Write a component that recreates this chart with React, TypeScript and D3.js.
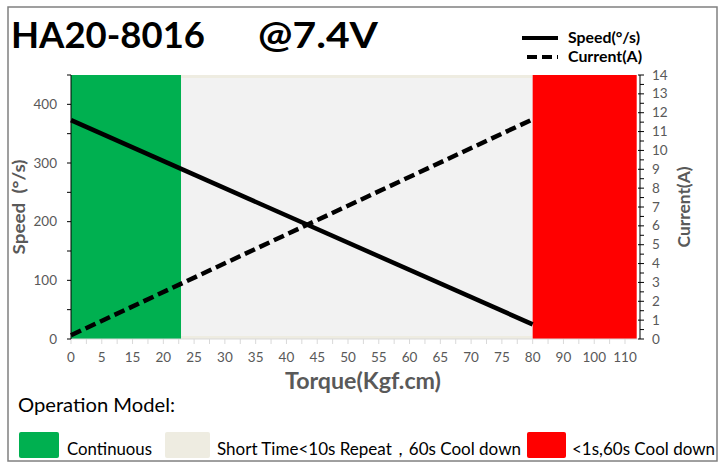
import React from "react";
import * as d3 from "d3";

const xLabels = [0, 5, 15, 20, 25, 30, 35, 40, 45, 50, 55, 60, 65, 70, 75, 80, 90, 100, 110];
const torque = [0, 80];
const speed = [373, 25];
const current = [0.2, 11.65];
const zoneEdges = [0, 22.9, 80, 113.8];
const zoneNames = ["Continuous", "Short Time<10s Repeat，60s Cool down", "<1s,60s Cool down"];
const speedTicks = [0, 100, 200, 300, 400];
const currentTicks = d3.range(0, 15);

const W = 728, H = 464;
const L = 71, R = 637.7, T = 75, B = 339;
const step = (625 - 71) / 18;
const FONT = "Lato, 'Open Sans', sans-serif";

export default function App() {
  const x = d3.scaleLinear().domain(xLabels).range(xLabels.map((_, i) => L + i * step));
  const yS = d3.scaleLinear().domain([0, 450]).range([B, T]);
  const yC = d3.scaleLinear().domain([0, 14]).range([B, T]);
  const speedLine = d3.line<number>().x((d, i) => x(torque[i])).y((d) => yS(d))(speed) || "";
  const curLine = d3.line<number>().x((d, i) => x(torque[i])).y((d) => yC(d))(current) || "";
  const zoneColors = ["#00b050", "#f2f2f2", "#ff0000"];
  const legendColors = ["#00b050", "#eeece1", "#ff0000"];
  const xMinor = d3.range(0, 18.5, 0.5).map((i) => L + i * step);
  const sMinor = d3.range(0, 451, 50);
  const cMinor = d3.range(0, 14.01, 0.5);
  const gray = "#595959";

  return (
    <svg width={W} height={H} style={{ position: "absolute", left: 0, top: 0 }} fontFamily={FONT}>
      <rect x={0} y={0} width={W} height={H} fill="#fff" />
      <rect x={8} y={7} width={709} height={454} fill="#fff" stroke="#808080" strokeWidth={1.5} />
      {/* title */}
      <text x={11} y={48} fontSize={37} fontWeight="bold" fill="#000" textLength={194} lengthAdjust="spacingAndGlyphs">
        HA20-8016
      </text>
      <text x={258} y={48} fontSize={37} fontWeight="bold" fill="#000" textLength={120} lengthAdjust="spacingAndGlyphs">@7.4V</text>
      {/* zones */}
      {zoneColors.map((c, i) => {
        const x0 = x(zoneEdges[i]), x1 = x(zoneEdges[i + 1]);
        if (i === 1) {
          return (
            <g key={i}>
              <rect x={x0} y={T} width={x1 - x0} height={B - T} fill="#eeece1" />
              <rect x={x0} y={T + 3} width={x1 - x0} height={B - T - 6} fill={c} />
            </g>
          );
        }
        return <rect key={i} x={x0} y={T} width={x1 - x0} height={B - T} fill={c} />;
      })}
      {/* x axis */}
      <line x1={L} x2={R} y1={B} y2={B} stroke="#d9d9d9" />
      {xMinor.map((px, i) => (
        <line key={i} x1={px} x2={px} y1={B} y2={B + 5} stroke="#d9d9d9" />
      ))}
      {xLabels.map((v, i) => (
        <text key={v} x={L + i * step} y={362} fontSize={13.5} fill={gray} textAnchor="middle">{v}</text>
      ))}
      <text x={363} y={389} fontSize={22} fontWeight="bold" fill={gray} textAnchor="middle" textLength={156} lengthAdjust="spacingAndGlyphs">Torque(Kgf.cm)</text>
      {/* left axis */}
      <line x1={L} x2={L} y1={T} y2={B} stroke="#000" strokeWidth={1} />
      {sMinor.map((v) => (
        <line key={v} x1={L - 4} x2={L} y1={yS(v)} y2={yS(v)} stroke="#000" />
      ))}
      {speedTicks.map((v) => (
        <text key={v} x={57} y={yS(v) + 4.5} fontSize={13.5} fill={gray} textAnchor="end">{v}</text>
      ))}
      <text transform={`translate(25,207) rotate(-90)`} fontSize={17} fontWeight="bold" fill={gray} textAnchor="middle" textLength={95} lengthAdjust="spacingAndGlyphs" style={{ whiteSpace: "pre" }}>
        {"Speed  (°/s)"}
      </text>
      {/* right axis */}
      <line x1={640} x2={640} y1={T} y2={B} stroke="#000" strokeWidth={1} />
      {cMinor.map((v) => (
        <line key={v} x1={Number.isInteger(v) ? 638 : 640} x2={644} y1={yC(v)} y2={yC(v)} stroke="#000" />
      ))}
      {currentTicks.map((v) => (
        <text key={v} x={652} y={yC(v) + 4.5} fontSize={13.5} fill={gray}>{v}</text>
      ))}
      <text transform={`translate(690,207) rotate(-90)`} fontSize={17} fontWeight="bold" fill={gray} textAnchor="middle" textLength={81} lengthAdjust="spacingAndGlyphs">
        Current(A)
      </text>
      {/* lines */}
      <path d={speedLine} fill="none" stroke="#000" strokeWidth={4.5} />
      <path d={curLine} fill="none" stroke="#000" strokeWidth={4.5} strokeDasharray="11,5" />
      {/* top legend */}
      <line x1={522} x2={558} y1={38} y2={38} stroke="#000" strokeWidth={4} />
      <text x={568} y={43} fontSize={15} fontWeight="bold" fill="#000" textLength={72} lengthAdjust="spacingAndGlyphs">Speed(°/s)</text>
      <line x1={527} x2={558} y1={57} y2={57} stroke="#000" strokeWidth={4} strokeDasharray="10,5" />
      <text x={568} y={62} fontSize={15} fontWeight="bold" fill="#000" textLength={74} lengthAdjust="spacingAndGlyphs">Current(A)</text>
      {/* bottom legend */}
      <text x={18} y={412} fontSize={19} fill="#000" textLength={157} lengthAdjust="spacingAndGlyphs">Operation Model:</text>
      {[
        { sx: 19, sw: 40, tx: 67, tl: 85 },
        { sx: 165, sw: 45, tx: 217, tl: 304 },
        { sx: 527, sw: 39, tx: 572, tl: 143 },
      ].map((p, i) => (
        <g key={i}>
          <rect x={p.sx} y={432} width={p.sw} height={26} rx={2} fill={legendColors[i]} />
          <text x={p.tx} y={455} fontSize={17} fill="#000" textLength={p.tl} lengthAdjust="spacingAndGlyphs">{zoneNames[i]}</text>
        </g>
      ))}
    </svg>
  );
}
